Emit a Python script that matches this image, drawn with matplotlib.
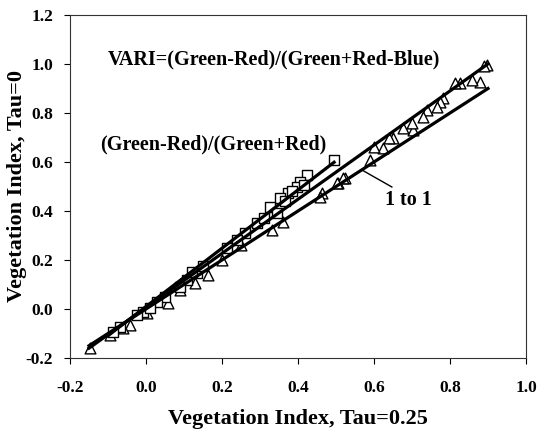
import matplotlib
matplotlib.use("Agg")
import matplotlib.pyplot as plt
import numpy as np

# (Green-Red)/(Green+Red) data (squares)
gr_x = [0.495, 0.423, 0.405, 0.397, 0.374, 0.353, 0.326, 0.344, 0.291, 0.261,
        0.239, 0.212, 0.133, 0.107, 0.089, 0.050, -0.007, -0.025, -0.068, -0.086,
        0.415, 0.385, 0.365, 0.310, 0.150, 0.120, 0.030, 0.010]
gr_y = [0.608, 0.547, 0.520, 0.499, 0.472, 0.452, 0.418, 0.391, 0.350, 0.309,
        0.282, 0.248, 0.146, 0.118, 0.091, 0.050, -0.011, -0.024, -0.072, -0.093,
        0.505, 0.480, 0.440, 0.372, 0.175, 0.150, 0.030, 0.005]

# VARI data (triangles)
vari_x = [0.897, 0.890, 0.879, 0.857, 0.826, 0.813, 0.782, 0.774, 0.765, 0.739,
          0.730, 0.703, 0.677, 0.651, 0.624, 0.589, 0.524, 0.506, 0.462,
          0.519, 0.502, 0.458, 0.361, 0.331, 0.164, 0.129, 0.089, 0.059, 0.002,
          -0.042, -0.060, -0.095, -0.147, 0.600, 0.640, 0.700, 0.250, 0.200]
vari_y = [0.996, 0.990, 0.928, 0.935, 0.921, 0.921, 0.860, 0.846, 0.826, 0.812,
          0.785, 0.731, 0.738, 0.697, 0.656, 0.608, 0.533, 0.513, 0.472,
          0.533, 0.513, 0.458, 0.356, 0.322, 0.139, 0.105, 0.078, 0.023, -0.018,
          -0.065, -0.079, -0.106, -0.160, 0.660, 0.700, 0.760, 0.260, 0.200]

# Fit lines and 1:1 line
gr_fit_x = [-0.10, 0.495]
gr_slope, gr_icpt = 1.19, 0.01
vari_fit_x = [-0.15, 0.90]
vari_slope, vari_icpt = 1.105, 0.006
one_x = [-0.15, 0.90]

xticks = [-0.2, 0.0, 0.2, 0.4, 0.6, 0.8, 1.0]
yticks = [-0.2, 0.0, 0.2, 0.4, 0.6, 0.8, 1.0, 1.2]

plt.rcParams['font.family'] = ['Liberation Serif', 'DejaVu Serif']
plt.rcParams['font.weight'] = 'bold'

fig = plt.figure(figsize=(5.37, 4.32), dpi=100)
ax = fig.add_axes([70/537, 1-358/432, 456/537, 343/432])

ax.scatter(vari_x, vari_y, marker='^', s=60, facecolors='white', edgecolors='black', linewidths=1.0, zorder=3)
ax.scatter(gr_x, gr_y, marker='s', s=48, facecolors='white', edgecolors='black', linewidths=1.0, zorder=3)

gx = np.array(gr_fit_x)
vx = np.array(vari_fit_x)
ox = np.array(one_x)
ax.plot(ox, ox, color='black', lw=2.3, zorder=4)
ax.plot(vx, vari_slope*vx + vari_icpt, color='black', lw=2.3, zorder=4)
ax.plot(gx, gr_slope*gx + gr_icpt, color='black', lw=2.3, zorder=4)

ax.set_xlim(-0.2, 1.0)
ax.set_ylim(-0.2, 1.2)
ax.set_xticks(xticks)
ax.set_yticks(yticks)
ax.set_xticklabels([f"{t:.1f}" for t in xticks], fontsize=12.5, fontweight='bold')
ax.set_yticklabels([f"{t:.1f}" for t in yticks], fontsize=12.5, fontweight='bold')
ax.tick_params(direction='out', length=4, width=0.8)
ax.tick_params(axis='x', pad=12)
ax.tick_params(axis='y', pad=8)
for s in ax.spines.values():
    s.set_linewidth(0.8)
    s.set_color('#333333')

ax.set_xlabel('Vegetation Index, Tau=0.25', fontsize=16, fontweight='bold')
ax.set_ylabel('Vegetation Index, Tau=0', fontsize=16, fontweight='bold')
ax.xaxis.set_label_coords(0.5, -0.148)
ax.yaxis.set_label_coords(-0.094, 0.5)

ax.text(-0.1, 1.017, 'VARI=(Green-Red)/(Green+Red-Blue)', fontsize=14.5, fontweight='bold', va='center', ha='left')
ax.text(-0.121, 0.673, '(Green-Red)/(Green+Red)', fontsize=14.5, fontweight='bold', va='center', ha='left')
ax.text(0.629, 0.445, '1 to 1', fontsize=14.5, fontweight='bold', va='center', ha='left')
ax.plot([0.571, 0.647], [0.565, 0.498], color='black', lw=1.0)

fig.savefig('out.png', dpi=100)
